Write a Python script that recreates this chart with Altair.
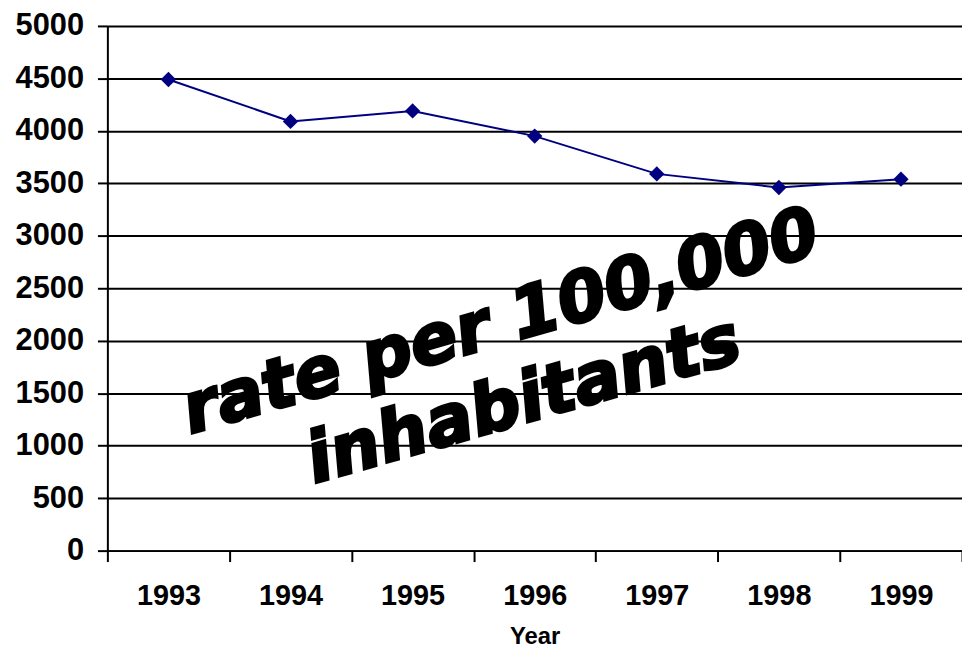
import altair as alt
import pandas as pd

years = ["1993", "1994", "1995", "1996", "1997", "1998", "1999"]
rates = [4490, 4090, 4190, 3950, 3590, 3460, 3540]
y_ticks = list(range(0, 5001, 500))
note_line1 = "rate per 100,000"
note_line2 = "inhabitants"

df = pd.DataFrame({"Year": years, "Rate": rates})
FONT = "Liberation Sans"

x = alt.X("Year:N", sort=years, title="Year",
          scale=alt.Scale(paddingInner=0, paddingOuter=0),
          axis=alt.Axis(labelAngle=0, tickBand="extent", tickSize=11,
                        labelPadding=20, titlePadding=14, labelFontSize=29,
                        titleFontSize=24, grid=False))
y = alt.Y("Rate:Q", title=None,
          scale=alt.Scale(domain=[0, 5000], nice=False),
          axis=alt.Axis(values=y_ticks, format="d", tickSize=10,
                        labelPadding=14, labelFontSize=31, grid=True,
                        gridColor="black", gridWidth=2, gridOpacity=1))

base = alt.Chart(df)
line = base.mark_line(color="#000080", strokeWidth=2).encode(x=x, y=y)
pts = base.mark_point(shape="diamond", filled=True, color="#000080",
                      size=240, opacity=1).encode(x=x, y=y)

text_style = dict(font="DejaVu Sans", fontWeight="bold", fontStyle="italic",
                  fontSize=70, angle=344, align="center", baseline="middle",
                  color="black", stroke="black", strokeWidth=3)
t1 = alt.Chart(pd.DataFrame({"t": [note_line1]})).mark_text(**text_style).encode(
    text="t:N", x=alt.value(396), y=alt.value(299))
t2 = alt.Chart(pd.DataFrame({"t": [note_line2]})).mark_text(**text_style).encode(
    text="t:N", x=alt.value(419), y=alt.value(378))

chart = alt.layer(line, pts, t1, t2).properties(
    width=860, height=528, autosize="none",
    padding={"left": 100, "top": 16, "right": 0, "bottom": 104},
    background="white",
).configure_axis(
    labelFont=FONT, titleFont=FONT, labelFontWeight="bold",
    titleFontWeight="bold", labelColor="black", titleColor="black",
    domainColor="black", domainWidth=2, tickColor="black", tickWidth=2,
).configure_view(stroke=None)

chart.save("out.html", embed_options={"renderer": "svg", "actions": False})
